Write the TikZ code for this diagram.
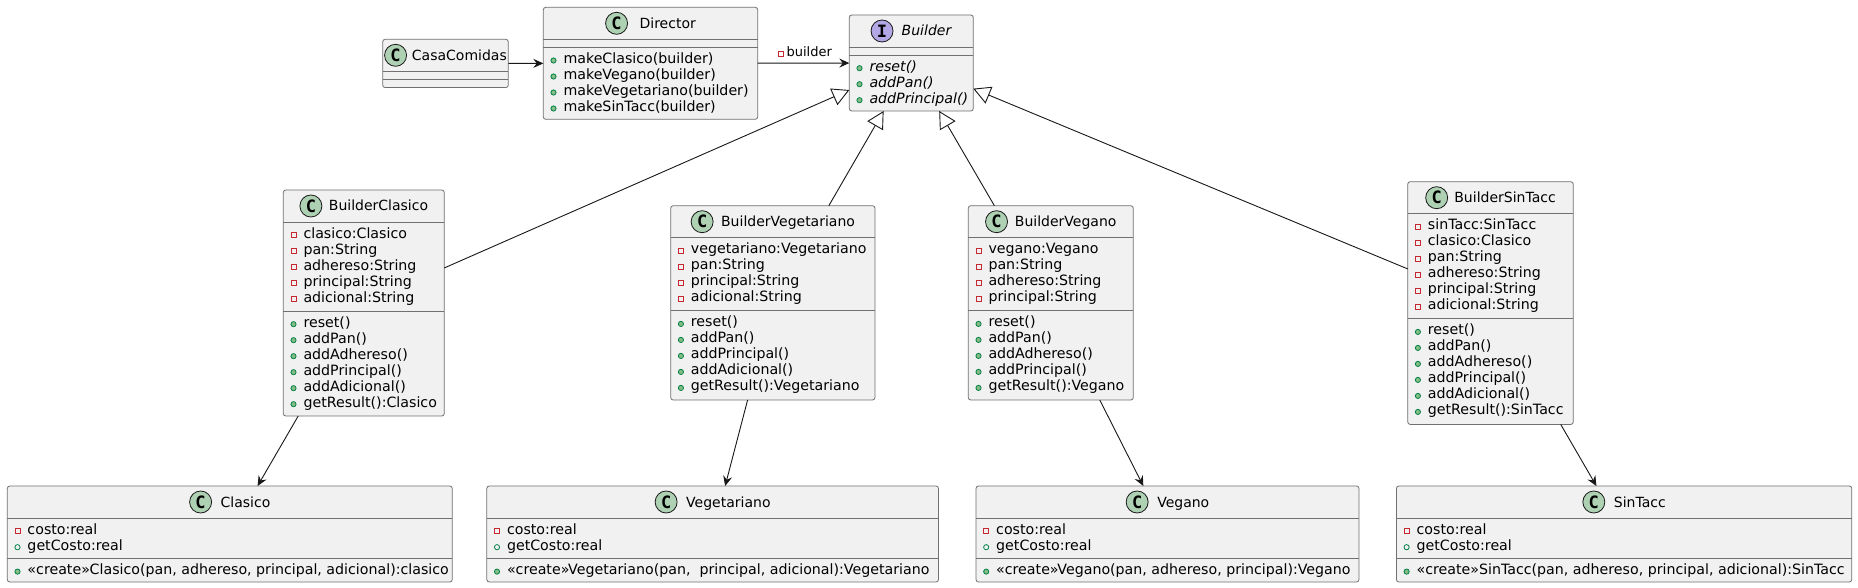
\documentclass[tikz,border=0pt]{standalone}
\usepackage{fontspec}
\setmainfont{DejaVu Sans}
\setmonofont{DejaVu Sans Mono}
\usetikzlibrary{arrows.meta}

% member icons
\newcommand{\mstrut}{\rule[-4pt]{0pt}{16pt}}
\newcommand{\privsq}{\tikz[baseline=0pt]{\useasboundingbox (0pt,0pt) rectangle (6pt,6pt); \draw[privred, line width=0.8pt] (0.5pt,0.5pt) rectangle (5.5pt,5.5pt);}}
\newcommand{\privico}{\mstrut\privsq\hspace{7pt}}
\newcommand{\pubmico}{\mstrut\tikz[baseline=0pt]{\useasboundingbox (0pt,0pt) rectangle (6pt,6pt); \draw[pubgreen, fill=pubfill, line width=0.8pt] (3pt,3pt) circle (2.6pt);}\hspace{7pt}}
\newcommand{\pubfico}{\mstrut\tikz[baseline=0pt]{\useasboundingbox (0pt,0pt) rectangle (6pt,6pt); \draw[pubgreen, line width=0.8pt] (3pt,3pt) circle (2.6pt);}\hspace{7pt}}
\newcommand{\clsico}{\tikz[baseline=-5pt]\node[circle, draw=boxdraw, line width=0.8pt, fill=clsgreen, minimum size=22pt, inner sep=0pt, font=\ttfamily\bfseries\fontsize{17pt}{17pt}\selectfont] {C};}
\newcommand{\ifcico}{\tikz[baseline=-5pt]\node[circle, draw=boxdraw, line width=0.8pt, fill=ifcpurple, minimum size=22pt, inner sep=0pt, font=\ttfamily\bfseries\fontsize{17pt}{17pt}\selectfont] {I};}

% name, x, y, width, attr height, method height, title, attrs, methods
\newcommand{\umlclass}[9]{%
  \node[classbox, minimum width=#4pt, minimum height={32pt+#5pt+#6pt}] (#1) at (#2,#3) {};
  \node[titletext] at ([yshift=-16pt]#1.north) {#7};
  \draw[sepline] ([yshift=-32pt]#1.north west) -- ([yshift=-32pt]#1.north east);
  \draw[sepline] ([yshift={-32pt-#5pt}]#1.north west) -- ([yshift={-32pt-#5pt}]#1.north east);
  \if\relax\detokenize{#8}\relax\else
    \node[membertext] at ([xshift=7pt, yshift=-36pt]#1.north west) {#8};\fi
  \if\relax\detokenize{#9}\relax\else
    \node[membertext] at ([xshift=7pt, yshift={-36pt-#5pt}]#1.north west) {#9};\fi
}

\begin{document}
\begin{tikzpicture}[x=1pt, y=-1pt,
  classbox/.style={draw=boxline, fill=boxfill, line width=0.8pt, rounded corners=2.5pt, anchor=north west, inner sep=0pt, outer sep=0pt},
  sepline/.style={draw=boxline, line width=0.8pt},
  titletext/.style={inner sep=0pt, font=\fontsize{14pt}{16pt}\selectfont},
  membertext/.style={anchor=north west, inner sep=0pt, align=left, font=\fontsize{14.2pt}{16pt}\selectfont},
  conn/.style={draw=boxdraw, line width=0.9pt},
  assoc/.style={conn, -{Stealth[length=10pt, width=9pt, inset=3.5pt]}},
  extends/.style={conn, -{Triangle[open, length=17pt, width=18pt]}}]
\definecolor{boxfill}{HTML}{F1F1F1}
\definecolor{boxdraw}{HTML}{181818}
\definecolor{boxline}{HTML}{707070}
\definecolor{clsgreen}{HTML}{ADD1B2}
\definecolor{ifcpurple}{HTML}{B4A7E5}
\definecolor{privred}{HTML}{C82930}
\definecolor{pubgreen}{HTML}{038048}
\definecolor{pubfill}{HTML}{84BE84}
\fill[white] (0,0) rectangle (1858,588);
\useasboundingbox (0,0) rectangle (1858,588);

% top row
\umlclass{casa}{382.7}{39.3}{125.6}{8.3}{8}{\clsico\hspace{5pt}CasaComidas}{}{}
\umlclass{director}{543.3}{7.3}{214.4}{8}{72}{\clsico\hspace{11.6pt}Director}{}
  {\pubmico makeClasico(builder)\\\pubmico makeVegano(builder)\\\pubmico makeVegetariano(builder)\\\pubmico makeSinTacc(builder)}
\umlclass{builder}{849.3}{15}{124}{8}{56}{\ifcico\hspace{8.3pt}\textit{Builder}}{}
  {\pubmico\textit{reset()}\\\pubmico\textit{addPan()}\\\pubmico\textit{addPrincipal()}}

% concrete builders
\umlclass{bclasico}{283.3}{190}{161}{89}{105}{\clsico\hspace{6.6pt}BuilderClasico}
  {\privico clasico:Clasico\\\privico pan:String\\\privico adhereso:String\\\privico principal:String\\\privico adicional:String}
  {\pubmico reset()\\\pubmico addPan()\\\pubmico addAdhereso()\\\pubmico addPrincipal()\\\pubmico addAdicional()\\\pubmico getResult():Clasico}
\umlclass{bvegetariano}{670.7}{205.7}{204.3}{73}{89.3}{\clsico\hspace{7.6pt}BuilderVegetariano}
  {\privico vegetariano:Vegetariano\\\privico pan:String\\\privico principal:String\\\privico adicional:String}
  {\pubmico reset()\\\pubmico addPan()\\\pubmico addPrincipal()\\\pubmico addAdicional()\\\pubmico getResult():Vegetariano}
\umlclass{bvegano}{968.3}{205.7}{165}{73}{89.3}{\clsico\hspace{7pt}BuilderVegano}
  {\privico vegano:Vegano\\\privico pan:String\\\privico adhereso:String\\\privico principal:String}
  {\pubmico reset()\\\pubmico addPan()\\\pubmico addAdhereso()\\\pubmico addPrincipal()\\\pubmico getResult():Vegano}
\umlclass{bsintacc}{1407.7}{181.7}{165.6}{105}{105.7}{\clsico\hspace{6.3pt}BuilderSinTacc}
  {\privico sinTacc:SinTacc\\\privico clasico:Clasico\\\privico pan:String\\\privico adhereso:String\\\privico principal:String\\\privico adicional:String}
  {\pubmico reset()\\\pubmico addPan()\\\pubmico addAdhereso()\\\pubmico addPrincipal()\\\pubmico addAdicional()\\\pubmico getResult():SinTacc}

% products
\umlclass{clasico}{7.3}{486}{445}{40.4}{23.6}{\clsico\hspace{8.7pt}Clasico}
  {\privico costo:real\\\pubfico getCosto:real}
  {\pubmico «create»Clasico(pan, adhereso, principal, adicional):clasico}
\umlclass{vegetariano}{486.8}{486}{451.7}{40.4}{23.6}{\clsico\hspace{8.7pt}Vegetariano}
  {\privico costo:real\\\pubfico getCosto:real}
  {\pubmico «create»Vegetariano(pan,~ principal, adicional):Vegetariano}
\umlclass{vegano}{976}{486}{383}{40.4}{23.6}{\clsico\hspace{8.7pt}Vegano}
  {\privico costo:real\\\pubfico getCosto:real}
  {\pubmico «create»Vegano(pan, adhereso, principal):Vegano}
\umlclass{sintacc}{1396.4}{486}{455.4}{40.4}{23.6}{\clsico\hspace{8.7pt}SinTacc}
  {\privico costo:real\\\pubfico getCosto:real}
  {\pubmico «create»SinTacc(pan, adhereso, principal, adicional):SinTacc}

% connectors
\draw[assoc] (casa) -- (director);
\draw[assoc] (director) -- node[pos=0.513, above=6pt, inner sep=0pt, font=\fontsize{13pt}{13pt}\selectfont] (rolelbl) {\privsq\hspace{3pt}builder} (builder);
\draw[extends] (bclasico) -- (builder);
\draw[extends] (bvegetariano) -- (builder);
\draw[extends] (bvegano) -- (builder);
\draw[extends] (bsintacc) -- (builder);
\draw[assoc] (bclasico) -- (clasico);
\draw[assoc] (bvegetariano) -- (vegetariano);
\draw[assoc] (bvegano) -- (vegano);
\draw[assoc] (bsintacc) -- (sintacc);
\end{tikzpicture}
\end{document}
